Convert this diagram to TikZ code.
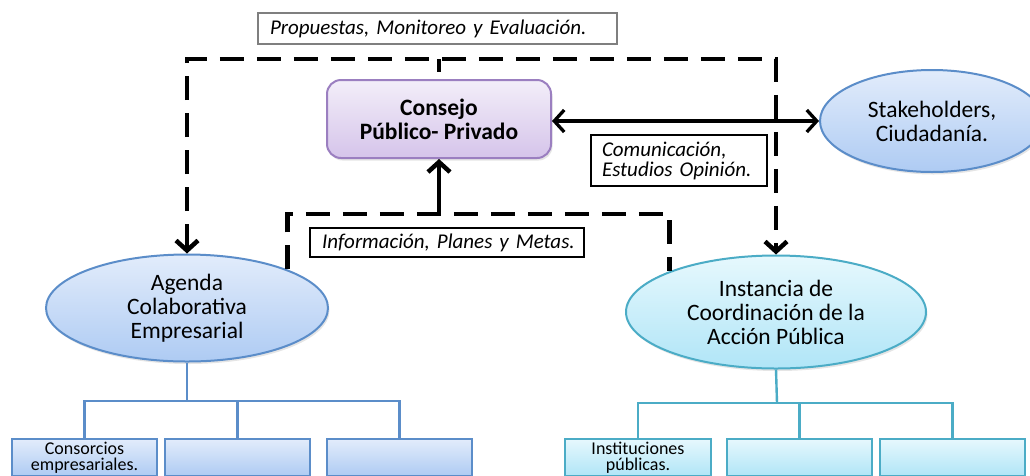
\documentclass[tikz,border=0pt]{standalone}
\usepackage{fontspec}
\setmainfont{Carlito}
\usetikzlibrary{arrows.meta,shadows,shapes.geometric,calc}

\definecolor{blueB}{HTML}{5B8DC9}
\definecolor{blueT}{HTML}{E2ECFB}
\definecolor{blueBot}{HTML}{AECBF3}
\definecolor{cyanB}{HTML}{4BACC6}
\definecolor{cyanT}{HTML}{E6F8FD}
\definecolor{cyanBot}{HTML}{B0E5F7}
\definecolor{purB}{HTML}{9B7FC0}
\definecolor{purT}{HTML}{F3EEF9}
\definecolor{purBot}{HTML}{D5C4EA}
\definecolor{grayB}{HTML}{7F7F7F}

\begin{document}
\begin{tikzpicture}[x=1pt,y=-1pt,
  shad/.style={drop shadow={opacity=0.2,shadow xshift=1.5pt,shadow yshift=-2.5pt}},
  bigtxt/.style={align=center,font=\fontsize{23.5}{24}\selectfont},
  blueell/.style={ellipse,draw=blueB,line width=2pt,top color=blueT,bottom color=blueBot,inner sep=0pt,bigtxt,shad},
  cyanell/.style={ellipse,draw=cyanB,line width=2pt,top color=cyanT,bottom color=cyanBot,inner sep=0pt,bigtxt,shad},
  consbox/.style={rectangle,rounded corners=14pt,draw=purB,line width=2pt,top color=purT,bottom color=purBot,
    align=center,font=\fontsize{23.5}{24}\selectfont\bfseries,minimum width=224pt,minimum height=78pt,shad},
  lbl/.style={rectangle,draw=black,line width=1.3pt,fill=white,align=left,inner ysep=0pt,
    font=\fontsize{21}{20}\selectfont\itshape},
  blueleaf/.style={rectangle,draw=blueB,line width=2.2pt,top color=blueT,bottom color=blueBot,
    minimum width=145pt,minimum height=37pt,inner sep=0pt,align=center,font=\fontsize{18}{16}\selectfont},
  cyanleaf/.style={rectangle,draw=cyanB,line width=2.2pt,top color=cyanT,bottom color=cyanBot,
    minimum width=145pt,minimum height=37pt,inner sep=0pt,align=center,font=\fontsize{18}{16}\selectfont},
  dsh/.style={draw=black,line width=4.5pt,dash pattern=on 24pt off 13pt},
  treeA/.style={draw=blueB,line width=2.4pt},
  treeC/.style={draw=cyanB,line width=2.4pt},
  >={Straight Barb[length=10pt,width=22pt]}
]
\useasboundingbox (0,0) rectangle (1030,475);
\clip (0,0) rectangle (1030,475);
\fill[white] (0,0) rectangle (1030,475);

% main nodes
\node[consbox] (consejo) at (439,119) {Consejo\\Público- Privado};
\node[blueell,minimum width=224pt,minimum height=102pt] (stake) at (932,121) {Stakeholders,\\Ciudadanía.};
\node[blueell,minimum width=282pt,minimum height=107pt] (agenda) at (187,308) {Agenda\\Colaborativa\\Empresarial};
\node[cyanell,minimum width=300pt,minimum height=113pt] (instancia) at (776,312) {Instancia de\\Coordinación de la\\Acción Pública};

% label boxes
\node[lbl,draw=grayB,line width=1.5pt,text width=335pt,inner xsep=12pt,minimum height=31pt] (prop) at (437.5,28.5)
  {Propuestas, Monitoreo y Evaluación.};
\node[lbl,text width=154pt,inner xsep=11pt,minimum height=51pt] (comu) at (679,160.5)
  {Comunicación,\\Estudios Opinión.};
\node[lbl,text width=250pt,inner xsep=12pt,minimum height=29pt] (info) at (447,242.5)
  {\mbox{Información, Planes y Metas.}};

% leaf boxes
\node[blueleaf] (a1) at (84.5,457.5) {Consorcios\\empresariales.};
\node[blueleaf] (a2) at (237.5,457.5) {};
\node[blueleaf] (a3) at (399.5,457.5) {};
\node[cyanleaf,minimum width=146pt] (i1) at (638,457.5) {Instituciones\\públicas.};
\node[cyanleaf] (i2) at (799.5,457.5) {};
\node[cyanleaf] (i3) at (952.5,457.5) {};

% coordinates
\coordinate (tm) at (439,59);
\coordinate (bm) at (439,214);
\coordinate (ah) at (187,401);
\coordinate (ih) at (777,403);

% dashed connectors
\draw[dsh,<->] (agenda.north) -- (agenda.north |- tm) -- (instancia.north |- tm) -- (instancia.north);
\draw[dsh,shorten >=7pt] (tm) -- (consejo.north);
\draw[dsh] (agenda.21) |- (bm) -| (instancia.159);

% solid arrows
\draw[line width=4.5pt,->] (bm) -- (consejo.south);
\draw[line width=3.3pt,<->] (consejo.east |- stake.west) -- (stake.west);

% trees
\draw[treeA] (agenda.south) -- (ah);
\draw[treeA] (a1.north) |- (a3.north |- ah) -- (a3.north);
\draw[treeA] (a2.north) -- (a2.north |- ah);
\draw[treeC] (instancia.south) -- (ih);
\draw[treeC] (i1.north) |- (i3.north |- ih) -- (i3.north);
\draw[treeC] (i2.north) -- (i2.north |- ih);
\end{tikzpicture}
\end{document}
